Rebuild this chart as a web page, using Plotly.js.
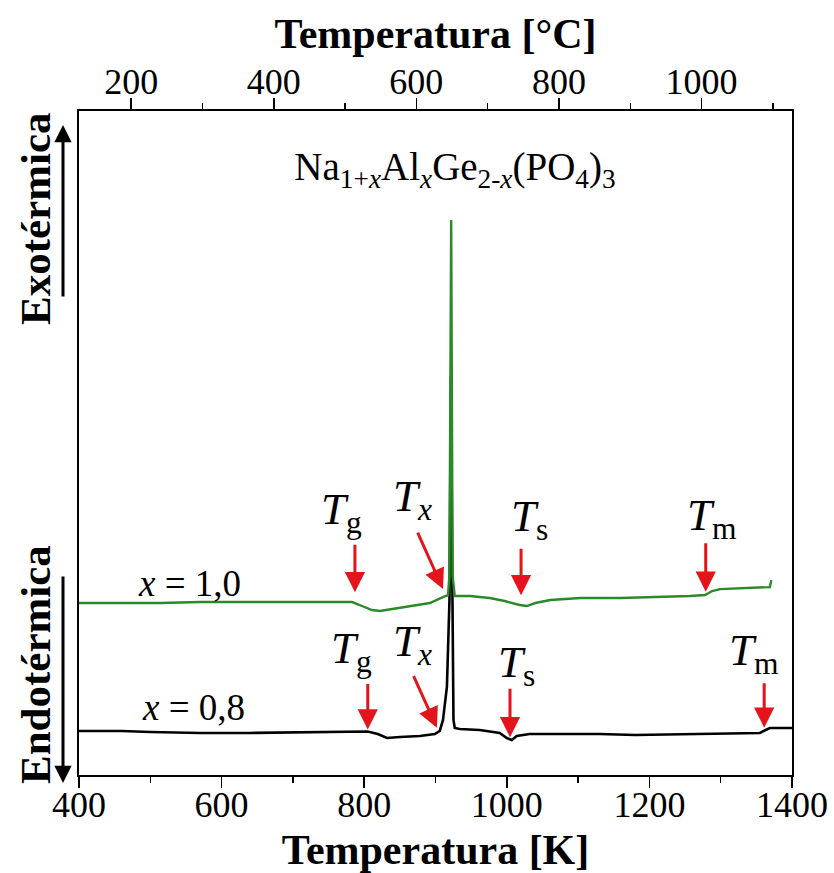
<!DOCTYPE html>
<html>
<head>
<meta charset="utf-8">
<script src="https://cdn.plot.ly/plotly-3.0.1.min.js"></script>
<style>
  html, body { margin: 0; padding: 0; background: #ffffff; }
  #chart { width: 834px; height: 873px; }
</style>
</head>
<body>
<div id="chart"></div>
<script>
// ---- Data ----
// x = 1,0 (green curve): temperature [K] and DSC signal (arbitrary units)
const tempK_x10 = [400, 430, 470, 515, 570, 640, 710, 766, 783, 797, 811, 822, 839, 864, 892, 910.5, 917.5, 919.5, 922, 924, 927, 948, 976, 997, 1018, 1028, 1040, 1061, 1103, 1159, 1215, 1257, 1278, 1288, 1299, 1341, 1369, 1371];
const signal_x10 = [25.9, 25.9, 26.0, 25.9, 26.05, 26.05, 26.1, 26.1, 26.05, 25.45, 24.85, 24.7, 25.0, 25.45, 25.9, 26.8, 27.1, 30, 83.6, 30, 26.95, 26.95, 26.65, 26.2, 25.6, 25.45, 25.9, 26.35, 26.65, 26.65, 26.8, 26.95, 27.1, 27.7, 28.0, 28.15, 28.3, 29.35];

// x = 0,8 (black curve)
const tempK_x08 = [400, 460, 500, 570, 640, 710, 766, 805, 819, 832, 850, 878, 899, 906, 910.5, 916, 919.6, 921.7, 923.8, 925.2, 927, 934, 962, 990, 1000, 1007, 1014, 1032, 1074, 1130, 1180, 1250, 1306, 1355, 1363, 1369, 1400];
const signal_x08 = [6.63, 6.63, 6.48, 6.33, 6.33, 6.4, 6.55, 6.55, 6.17, 5.57, 5.72, 5.87, 6.17, 6.63, 8.3, 13.25, 26.35, 60, 26.35, 8.3, 7.08, 6.93, 6.78, 6.33, 5.57, 5.27, 5.87, 6.17, 6.17, 6.17, 6.02, 6.17, 6.25, 6.33, 6.78, 7.08, 7.08];

// Characteristic temperatures [K]: Tg, Tx, Ts, Tm
const eventSubs = ['g', 'x', 's', 'm'];
const events_x10 = [787, 910.5, 1020, 1279];
const events_x08 = [805, 902, 1004.5, 1361];

// Axis ticks
const ticksK = [400, 600, 800, 1000, 1200, 1400];
const minorK = [500, 700, 900, 1100, 1300];
const ticksC = [200, 400, 600, 800, 1000];
const minorC = [300, 500, 700, 900, 1100];
const rangeK = [400, 1400];
const KELVIN_OFFSET = 273.15;

// ---- Helpers ----
function interp(xs, ys, x) {
  for (let i = 0; i < xs.length - 1; i++) {
    if (x >= xs[i] && x <= xs[i + 1]) {
      const t = (x - xs[i]) / (xs[i + 1] - xs[i]);
      return ys[i] + t * (ys[i + 1] - ys[i]);
    }
  }
  return ys[ys.length - 1];
}

const FONT = '"Liberation Serif", "Times New Roman", serif';
const RED = '#e3141b';

const traces = [
  { x: tempK_x08, y: signal_x08, type: 'scatter', mode: 'lines', name: 'x = 0,8',
    line: { color: '#000000', width: 2.6 }, hoverinfo: 'skip' },
  { x: tempK_x10, y: signal_x10, type: 'scatter', mode: 'lines', name: 'x = 1,0',
    line: { color: '#2a8a2a', width: 2.4 }, hoverinfo: 'skip' },
  // same curve expressed in °C, invisible, only to carry the top axis
  { x: tempK_x10.map(k => k - KELVIN_OFFSET), y: signal_x10, xaxis: 'x2', yaxis: 'y',
    type: 'scatter', mode: 'lines', opacity: 0, line: { width: 0 }, hoverinfo: 'skip', showlegend: false }
];

// styling per event: arrow gap above curve, arrow tail offset, label offset (pixels)
const style_x10 = [
  { gap: 11, ax: 0, ay: -49, lx: -13, ly: 91 },
  { gap: 8, ax: -26, ay: -58, lx: -30, ly: 98 },
  { gap: 10, ax: 0, ay: -48, lx: 8, ly: 86 },
  { gap: 3, ax: 0, ay: -50, lx: 6, ly: 77 }
];
const style_x08 = [
  { gap: 2, ax: 0, ay: -47, lx: -16, ly: 81 },
  { gap: 5, ax: -24, ay: -53, lx: -24, ly: 89 },
  { gap: 2, ax: 0, ay: -50, lx: 6, ly: 74 },
  { gap: 3, ax: 0, ay: -46, lx: -10, ly: 78 }
];

const annotations = [];
function addEvents(events, xs, ys, styles) {
  events.forEach((T, i) => {
    const yv = interp(xs, ys, T);
    const s = styles[i];
    annotations.push({
      x: T, y: yv, xref: 'x', yref: 'y', yshift: s.gap,
      text: '', showarrow: true, ax: s.ax, ay: s.ay,
      arrowcolor: RED, arrowwidth: 3, arrowhead: 2, arrowsize: 1.35, standoff: 0
    });
    annotations.push({
      x: T, y: yv, xref: 'x', yref: 'y', xshift: s.lx, yshift: s.ly,
      text: '<i>T</i><sub>' + (eventSubs[i] === 'x' ? '<i>x</i>' : eventSubs[i]) + '</sub>',
      showarrow: false, xanchor: 'center', yanchor: 'middle',
      font: { family: FONT, size: 45, color: '#000000' }
    });
  });
}
addEvents(events_x10, tempK_x10, signal_x10, style_x10);
addEvents(events_x08, tempK_x08, signal_x08, style_x08);

// sample labels
annotations.push({
  x: 555, y: interp(tempK_x10, signal_x10, 555), xref: 'x', yref: 'y', yshift: 19,
  text: '<i>x</i> = 1,0', showarrow: false, xanchor: 'center', yanchor: 'middle',
  font: { family: FONT, size: 37, color: '#000000' }
});
annotations.push({
  x: 560, y: interp(tempK_x08, signal_x08, 560), xref: 'x', yref: 'y', yshift: 25,
  text: '<i>x</i> = 0,8', showarrow: false, xanchor: 'center', yanchor: 'middle',
  font: { family: FONT, size: 37, color: '#000000' }
});

// left side: Exotérmica / Endotérmica with arrows
annotations.push({
  x: (35 - 79) / 713, y: (775 - 219) / 664, xref: 'paper', yref: 'paper',
  text: '<b>Exotérmica</b>', textangle: -90, showarrow: false,
  xanchor: 'center', yanchor: 'middle',
  font: { family: FONT, size: 43, color: '#000000' }
});
annotations.push({
  x: (35 - 79) / 713, y: (775 - 665) / 664, xref: 'paper', yref: 'paper',
  text: '<b>Endotérmica</b>', textangle: -90, showarrow: false,
  xanchor: 'center', yanchor: 'middle',
  font: { family: FONT, size: 43, color: '#000000' }
});
annotations.push({
  x: (63 - 79) / 713, y: (775 - 125) / 664, xref: 'paper', yref: 'paper',
  text: '', showarrow: true, ax: 0, ay: 173,
  arrowcolor: '#000000', arrowwidth: 3, arrowhead: 2, arrowsize: 1.15, standoff: 0
});
annotations.push({
  x: (63 - 79) / 713, y: (775 - 783) / 664, xref: 'paper', yref: 'paper',
  text: '', showarrow: true, ax: 0, ay: -208,
  arrowcolor: '#000000', arrowwidth: 3, arrowhead: 2, arrowsize: 1.15, standoff: 0
});

const tickStyle = {
  ticks: 'outside', ticklen: 11, tickwidth: 1.6, tickcolor: '#000000',
  showline: true, linewidth: 2, linecolor: '#000000', showgrid: false, zeroline: false,
  tickfont: { family: FONT, size: 36, color: '#000000' }, fixedrange: true
};

const layout = {
  width: 834, height: 873,
  margin: { l: 79, r: 42, t: 111, b: 98, pad: 0 },
  paper_bgcolor: '#ffffff', plot_bgcolor: '#ffffff',
  showlegend: false,
  font: { family: FONT, color: '#000000' },
  title: {
    text: 'Na<sub>1+<i>x</i></sub>Al<sub><i>x</i></sub>Ge<sub>2-<i>x</i></sub>(PO<sub>4</sub>)<sub>3</sub>',
    font: { family: FONT, size: 39, color: '#000000' },
    x: 455 / 834, xanchor: 'center', xref: 'container',
    y: 1 - 166 / 873, yanchor: 'middle', yref: 'container'
  },
  xaxis: Object.assign({}, tickStyle, {
    ticklabelstandoff: -14,
    range: rangeK, tickmode: 'array', tickvals: ticksK, ticktext: ticksK.map(String),
    minor: { tickmode: 'array', tickvals: minorK, ticks: 'outside', ticklen: 6, tickwidth: 1.4, tickcolor: '#000000', showgrid: false },
    title: { text: '<b>Temperatura [K]</b>', font: { family: FONT, size: 42, color: '#000000' }, standoff: 18 }
  }),
  xaxis2: Object.assign({}, tickStyle, {
    ticklabelstandoff: -10,
    overlaying: 'x', side: 'top', anchor: 'y',
    range: [rangeK[0] - KELVIN_OFFSET, rangeK[1] - KELVIN_OFFSET],
    tickmode: 'array', tickvals: ticksC, ticktext: ticksC.map(String),
    minor: { tickmode: 'array', tickvals: minorC, ticks: 'outside', ticklen: 6, tickwidth: 1.4, tickcolor: '#000000', showgrid: false },
    title: { text: '<b>Temperatura [°C]</b>', font: { family: FONT, size: 42, color: '#000000' }, standoff: 0 }
  }),
  yaxis: {
    range: [0, 100], showticklabels: false, ticks: '', showgrid: false, zeroline: false,
    showline: true, mirror: true, linewidth: 2, linecolor: '#000000', fixedrange: true
  },
  annotations: annotations
};

Plotly.newPlot('chart', traces, layout, { displayModeBar: false, staticPlot: true });
</script>
</body>
</html>
